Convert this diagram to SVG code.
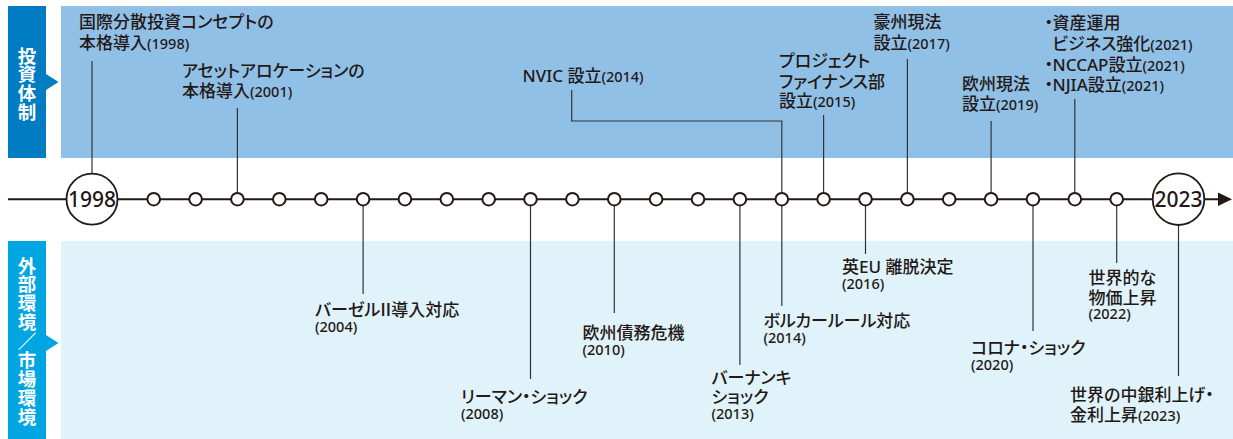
<svg xmlns="http://www.w3.org/2000/svg" width="1233" height="439" viewBox="0 0 1233 439">
<style>
.lbl{font-family:"Noto Sans","Noto Sans CJK JP",sans-serif;font-size:17px;font-weight:500;fill:#231815;font-feature-settings:"palt";}
.yr{font-size:14.5px;}
.cjk{font-family:"Noto Sans CJK JP",sans-serif;}
.side{font-family:"Noto Sans CJK JP",sans-serif;font-size:18.5px;font-weight:bold;fill:#ffffff;text-anchor:middle;}
.big{font-family:"Noto Sans","Noto Sans CJK JP",sans-serif;font-size:21px;font-weight:500;fill:#231815;text-anchor:middle;}
.con{fill:none;stroke:#333333;stroke-width:1.2;}
.dot{fill:#ffffff;stroke:#231815;stroke-width:2;}
.bigc{fill:#ffffff;stroke:#231815;stroke-width:1.8;}
</style>
<!-- bands -->
<g id="band-top">
<rect x="61" y="6" width="1172" height="152" fill="#91c0e7"/>
<rect x="8" y="6" width="38" height="152" fill="#007cc3"/>
<polygon points="46,74 58.5,82 46,90" fill="#007cc3"/>
<text class="side" x="27 27 27 27" y="62.5 81.2 99.9 118.6">投資体制</text>
</g>
<g id="band-bottom">
<rect x="61" y="241" width="1172" height="198" fill="#e0f2fa"/>
<rect x="8" y="241" width="38" height="198" fill="#00a5e2"/>
<polygon points="46,335 58.5,343 46,351" fill="#00a5e2"/>
<text class="side" x="27 27 27 27 27 27 27 27 27" y="272.5 291.4 310.3 329.2 348.1 367 385.9 404.8 423.7">外部環境／市場環境</text>
</g>
<!-- connectors -->
<g id="connectors">
<line class="con" x1="92" y1="61" x2="92" y2="174"/>
<line class="con" x1="237.4" y1="108" x2="237.4" y2="193"/>
<polyline class="con" points="571.7,90 571.7,121 781.8,121 781.8,193"/>
<line class="con" x1="823.6" y1="115" x2="823.6" y2="193"/>
<line class="con" x1="907.4" y1="59" x2="907.4" y2="193"/>
<line class="con" x1="991.1" y1="121" x2="991.1" y2="193"/>
<line class="con" x1="1074.8" y1="99" x2="1074.8" y2="193"/>
<line class="con" x1="363.1" y1="205" x2="363.1" y2="294"/>
<line class="con" x1="530.5" y1="205" x2="530.5" y2="379"/>
<line class="con" x1="614.3" y1="205" x2="614.3" y2="313"/>
<line class="con" x1="739.9" y1="205" x2="739.9" y2="365" stroke="#666"/>
<line class="con" x1="781.8" y1="205" x2="781.8" y2="306" stroke="#666"/>
<line class="con" x1="865.5" y1="205" x2="865.5" y2="254"/>
<line class="con" x1="1033" y1="205" x2="1033" y2="331" stroke="#666"/>
<line class="con" x1="1116.7" y1="205" x2="1116.7" y2="263"/>
<line class="con" x1="1178.5" y1="225" x2="1178.5" y2="376"/>
<line x1="8" y1="199.2" x2="1222" y2="199.2" stroke="#231815" stroke-width="2"/>
<polygon points="1218,192.5 1232,199.2 1218,206" fill="#231815"/>
</g>
<!-- timeline nodes -->
<g id="year-1998"><circle class="bigc" cx="92" cy="199.2" r="25.5"/><text class="big" x="92" y="206.8">1998</text></g>
<g id="year-2023"><circle class="bigc" cx="1178.5" cy="199.2" r="25.8"/><text class="big" x="1178.5" y="206.8">2023</text></g>
<g id="ticks">
<circle class="dot" cx="153.7" cy="199.2" r="6.3"/>
<circle class="dot" cx="195.6" cy="199.2" r="6.3"/>
<circle class="dot" cx="237.4" cy="199.2" r="6.3"/>
<circle class="dot" cx="279.3" cy="199.2" r="6.3"/>
<circle class="dot" cx="321.2" cy="199.2" r="6.3"/>
<circle class="dot" cx="363.1" cy="199.2" r="6.3"/>
<circle class="dot" cx="404.9" cy="199.2" r="6.3"/>
<circle class="dot" cx="446.8" cy="199.2" r="6.3"/>
<circle class="dot" cx="488.7" cy="199.2" r="6.3"/>
<circle class="dot" cx="530.5" cy="199.2" r="6.3"/>
<circle class="dot" cx="572.4" cy="199.2" r="6.3"/>
<circle class="dot" cx="614.3" cy="199.2" r="6.3"/>
<circle class="dot" cx="656.1" cy="199.2" r="6.3"/>
<circle class="dot" cx="698" cy="199.2" r="6.3"/>
<circle class="dot" cx="739.9" cy="199.2" r="6.3"/>
<circle class="dot" cx="781.8" cy="199.2" r="6.3"/>
<circle class="dot" cx="823.6" cy="199.2" r="6.3"/>
<circle class="dot" cx="865.5" cy="199.2" r="6.3"/>
<circle class="dot" cx="907.4" cy="199.2" r="6.3"/>
<circle class="dot" cx="949.2" cy="199.2" r="6.3"/>
<circle class="dot" cx="991.1" cy="199.2" r="6.3"/>
<circle class="dot" cx="1033" cy="199.2" r="6.3"/>
<circle class="dot" cx="1074.8" cy="199.2" r="6.3"/>
<circle class="dot" cx="1116.7" cy="199.2" r="6.3"/>
</g>
<!-- top labels -->
<g id="ev-1998"><text class="lbl" x="79" y="28">国際分散投資コンセプトの</text><text class="lbl" x="79" y="49">本格導入<tspan class="yr">(1998)</tspan></text></g>
<g id="ev-2001"><text class="lbl" x="182" y="77">アセットアロケーションの</text><text class="lbl" x="182" y="97">本格導入<tspan class="yr">(2001)</tspan></text></g>
<g id="ev-2014-nvic"><text class="lbl" x="522.5" y="81.5">NVIC 設立<tspan class="yr">(2014)</tspan></text></g>
<g id="ev-2015"><text class="lbl" x="779" y="67">プロジェクト</text><text class="lbl" x="779" y="88">ファイナンス部</text><text class="lbl" x="779" y="107">設立<tspan class="yr">(2015)</tspan></text></g>
<g id="ev-2017"><text class="lbl" x="873.5" y="28">豪州現法</text><text class="lbl" x="873.5" y="49">設立<tspan class="yr">(2017)</tspan></text></g>
<g id="ev-2019"><text class="lbl" x="962" y="89.5">欧州現法</text><text class="lbl" x="962" y="110">設立<tspan class="yr">(2019)</tspan></text></g>
<g id="ev-2021"><text class="lbl" x="1044.5 1052.5" y="28.5">・資産運用</text><text class="lbl" x="1052.5" y="49.5">ビジネス強化<tspan class="yr">(2021)</tspan></text><text class="lbl" x="1044.5 1052.5" y="70.5">・NCCAP設立<tspan class="yr">(2021)</tspan></text><text class="lbl" x="1044.5 1052.5" y="91">・NJIA設立<tspan class="yr">(2021)</tspan></text></g>
<!-- bottom labels -->
<g id="ev-2004"><text class="lbl" x="315" y="316">バーゼル<tspan class="cjk" dx="-3">Ⅱ</tspan><tspan dx="-3">導入対応</tspan></text><text class="lbl yr" x="315" y="331.5">(2004)</text></g>
<g id="ev-2008"><text class="lbl" x="461" y="402.5">リーマン・ショック</text><text class="lbl yr" x="461" y="419">(2008)</text></g>
<g id="ev-2010"><text class="lbl" x="582.5" y="339">欧州債務危機</text><text class="lbl yr" x="582.5" y="355">(2010)</text></g>
<g id="ev-2013"><text class="lbl" x="711.5" y="384">バーナンキ</text><text class="lbl" x="711.5" y="402.5">ショック</text><text class="lbl yr" x="711.5" y="419">(2013)</text></g>
<g id="ev-2014"><text class="lbl" x="763.5" y="327">ボルカールール対応</text><text class="lbl yr" x="763.5" y="343">(2014)</text></g>
<g id="ev-2016"><text class="lbl" x="842" y="273">英EU 離脱決定</text><text class="lbl yr" x="842" y="289">(2016)</text></g>
<g id="ev-2020"><text class="lbl" x="971" y="354">コロナ・ショック</text><text class="lbl yr" x="971" y="370">(2020)</text></g>
<g id="ev-2022"><text class="lbl" x="1088.5" y="284">世界的な</text><text class="lbl" x="1088.5" y="303.5">物価上昇</text><text class="lbl yr" x="1088.5" y="319">(2022)</text></g>
<g id="ev-2023"><text class="lbl" x="1070" y="400.5">世界の中銀利上げ・</text><text class="lbl" x="1070" y="420.5">金利上昇<tspan class="yr">(2023)</tspan></text></g>
</svg>
